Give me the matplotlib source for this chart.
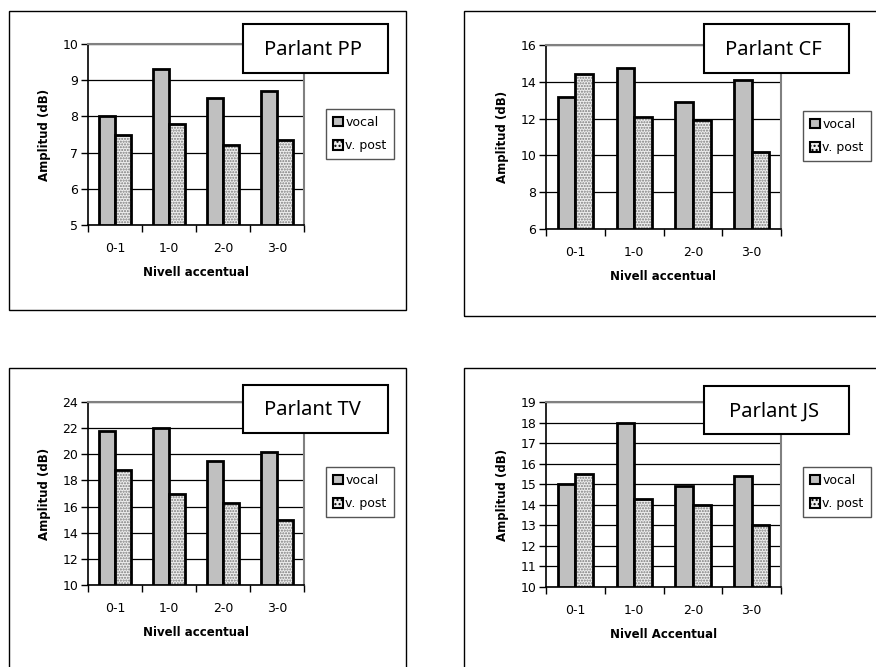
import numpy as np
import matplotlib.pyplot as plt
from matplotlib.patches import Rectangle, Patch

W, H = 876, 667

categories = ["0-1", "1-0", "2-0", "3-0"]

pp_vocal = [8.0, 9.3, 8.5, 8.7]
pp_post = [7.5, 7.8, 7.2, 7.35]
cf_vocal = [13.2, 14.75, 12.9, 14.1]
cf_post = [14.4, 12.1, 11.9, 10.2]
tv_vocal = [21.8, 22.0, 19.5, 20.2]
tv_post = [18.8, 17.0, 16.3, 15.0]
js_vocal = [15.0, 18.0, 14.9, 15.4]
js_post = [15.5, 14.3, 14.0, 13.0]

plt.rcParams['font.family'] = ['DejaVu Sans']

fig = plt.figure(figsize=(W / 100, H / 100), dpi=100)


def fbox(x0, y0, x1, y1):
    # pixel box (top-left origin) -> figure fractions
    return [x0 / W, 1 - y1 / H, (x1 - x0) / W, (y1 - y0) / H]


def frame(x0, y0, x1, y1, lw=1.0):
    l, b, w, h = fbox(x0, y0, x1, y1)
    fig.patches.append(Rectangle((l, b), w, h, transform=fig.transFigure,
                                 fill=False, edgecolor='black', lw=lw,
                                 clip_on=False, zorder=0))


def panel(plot_box, outer_box, title_box, legend_box, vocal, post,
          ylim, step, title, xlabel):
    frame(*outer_box)
    ax = fig.add_axes(fbox(*plot_box))
    x = np.arange(len(categories))
    bw = 0.3
    ax.bar(x - bw / 2, np.array(vocal) - ylim[0], bw, bottom=ylim[0],
           color='#c0c0c0', edgecolor='black', lw=2, zorder=3)
    # stippled fill first, then the black outline on top
    ax.bar(x + bw / 2, np.array(post) - ylim[0], bw, bottom=ylim[0],
           color='#eeeeee', edgecolor='#7a7a7a', hatch='......', lw=0,
           zorder=3)
    ax.bar(x + bw / 2, np.array(post) - ylim[0], bw, bottom=ylim[0],
           fill=False, edgecolor='black', lw=2, zorder=4)
    ax.set_xlim(-0.5, len(categories) - 0.5)
    ax.set_ylim(*ylim)
    ax.set_yticks(np.arange(ylim[0], ylim[1] + 0.01, step))
    ax.yaxis.grid(True, color='black', lw=0.9, zorder=0)
    ax.set_axisbelow(True)
    ax.set_xticks(x)
    ax.set_xticklabels(categories, fontsize=9)
    ax.set_xticks(np.arange(-0.5, len(categories)), minor=True)
    ax.tick_params(axis='x', which='major', length=0, pad=12)
    ax.tick_params(axis='x', which='minor', length=5, width=1,
                   direction='out')
    ax.tick_params(axis='y', length=5, width=1, labelsize=9, pad=2)
    for s in ['top', 'right']:
        ax.spines[s].set_color('#808080')
        ax.spines[s].set_linewidth(1.5)
    for s in ['left', 'bottom']:
        ax.spines[s].set_linewidth(1.2)
    ax.set_ylabel("Amplitud (dB)", fontsize=8.5, fontweight='bold',
                  labelpad=8)
    ax.set_xlabel(xlabel, fontsize=8.5, fontweight='bold', labelpad=8)

    # speaker box
    l, b, w, h = fbox(*title_box)
    fig.patches.append(Rectangle((l, b), w, h, transform=fig.transFigure,
                                 facecolor='white', edgecolor='black',
                                 lw=1.5, zorder=10, clip_on=False))
    fig.text(l + w / 2 - 0.003, b + h * 0.47, title, fontsize=14.5,
             family=['Noto Sans', 'DejaVu Sans'], fontweight='light',
             ha='center', va='center', zorder=11)

    # legend
    l, b, w, h = fbox(*legend_box)
    handles = [Patch(facecolor='#c0c0c0', edgecolor='black', lw=1.5),
               Patch(facecolor='#eeeeee', edgecolor='black', lw=1.5,
                     hatch='....')]
    leg = fig.legend(handles, ["vocal", "v. post"], loc='upper left',
                     bbox_to_anchor=(l, b + h), fontsize=9,
                     handlelength=0.8, handleheight=0.8,
                     handletextpad=0.2, borderpad=0.55, labelspacing=0.85,
                     borderaxespad=0, fancybox=False, framealpha=1)
    leg.get_frame().set_edgecolor('#555555')
    leg.get_frame().set_linewidth(1.0)
    return ax


panel((88, 44, 304, 225), (9, 11, 406, 310), (243, 24, 388, 73),
      (326, 109, 398, 161), pp_vocal, pp_post, (5, 10), 1,
      "Parlant PP", "Nivell accentual")
panel((546, 45, 781, 229), (464, 11, 900, 316), (704, 24, 849, 73),
      (803, 111, 890, 164), cf_vocal, cf_post, (6, 16), 2,
      "Parlant CF", "Nivell accentual")
panel((88, 402, 304, 585), (9, 368, 406, 700), (243, 385, 388, 433),
      (326, 467, 398, 519), tv_vocal, tv_post, (10, 24), 2,
      "Parlant TV", "Nivell accentual")
panel((546, 402, 781, 587), (464, 368, 900, 700), (704, 386, 849, 434),
      (803, 467, 890, 521), js_vocal, js_post, (10, 19), 1,
      "Parlant JS", "Nivell Accentual")

fig.savefig("out.png", dpi=100, facecolor='white')
